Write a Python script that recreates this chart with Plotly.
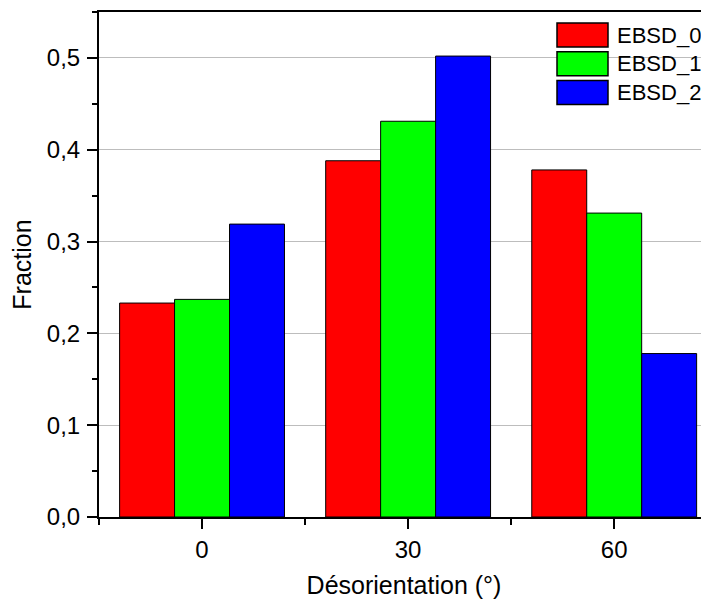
import plotly.graph_objects as go

categories = [0, 30, 60]
series_names = ["EBSD_0", "EBSD_1", "EBSD_2"]
ebsd_0 = [0.233, 0.388, 0.378]
ebsd_1 = [0.237, 0.431, 0.331]
ebsd_2 = [0.319, 0.502, 0.178]
colors = ["#FF0000", "#00FF00", "#0000FF"]
y_ticks = [0.0, 0.1, 0.2, 0.3, 0.4, 0.5]

font_family = "Liberation Sans, Arial, sans-serif"

# figure geometry (page body has an 8px margin)
FIG_W, FIG_H = 701, 591
M_L, M_R, M_T, M_B = 91, 0, 4, 82
PLOT_W = FIG_W - M_L - M_R
PLOT_H = FIG_H - M_T - M_B

fig = go.Figure()
for name, vals, col in zip(series_names, [ebsd_0, ebsd_1, ebsd_2], colors):
    fig.add_trace(go.Bar(
        x=categories, y=vals, name=name,
        marker=dict(color=col, line=dict(color="black", width=1)),
    ))

# legend drawn as boxes + text in the upper right corner
box_left_px, box_w_px, box_h_px, row_px, top_px = 458, 51, 24, 28.7, 11
for i, (name, col) in enumerate(zip(series_names, colors)):
    y_top = 1 - (top_px + i * row_px) / PLOT_H
    y_bot = y_top - box_h_px / PLOT_H
    x0 = box_left_px / PLOT_W
    x1 = (box_left_px + box_w_px) / PLOT_W
    fig.add_shape(type="rect", xref="paper", yref="paper",
                  x0=x0, x1=x1, y0=y_bot, y1=y_top,
                  fillcolor=col, line=dict(color="black", width=1.5))
    fig.add_annotation(xref="paper", yref="paper",
                       x=x1 + 7 / PLOT_W, y=(y_top + y_bot) / 2,
                       xanchor="left", yanchor="middle", showarrow=False,
                       text=name, font=dict(size=22, family=font_family, color="black"))

fig.update_layout(
    width=FIG_W, height=FIG_H,
    margin=dict(l=M_L, r=M_R, t=M_T, b=M_B, autoexpand=False),
    paper_bgcolor="white", plot_bgcolor="white",
    barmode="group", bargap=0.2, bargroupgap=0,
    separators=",.",
    font=dict(family=font_family, color="black"),
    showlegend=False,
)

fig.update_xaxes(
    range=[-15, 73.8], automargin=False,
    tickmode="array", tickvals=categories, ticktext=[str(c) for c in categories],
    ticks="outside", ticklen=10, tickwidth=1.5, tickcolor="black",
    tickfont=dict(size=24),
    showline=True, linecolor="black", linewidth=2, mirror=True,
    showgrid=False, zeroline=False,
    minor=dict(ticks="outside", ticklen=6, tickwidth=1.5, tickcolor="black",
               dtick=30, tick0=-15, showgrid=False),
    title=dict(text="Désorientation (°)", font=dict(size=25), standoff=16),
)

fig.update_yaxes(
    range=[0, 0.55], automargin=False,
    tickmode="array", tickvals=y_ticks, tickformat=".1f",
    ticks="outside", ticklen=10, tickwidth=1.5, tickcolor="black",
    tickfont=dict(size=24), ticklabelstandoff=2,
    showline=True, linecolor="black", linewidth=2, mirror=False,
    showgrid=True, gridcolor="#bdbdbd", gridwidth=1, zeroline=False,
    minor=dict(ticks="outside", ticklen=5, tickwidth=1.5, tickcolor="black",
               dtick=0.05, tick0=0, showgrid=False),
    title=dict(text="Fraction", font=dict(size=25), standoff=12),
)

fig.write_html("out.html")
